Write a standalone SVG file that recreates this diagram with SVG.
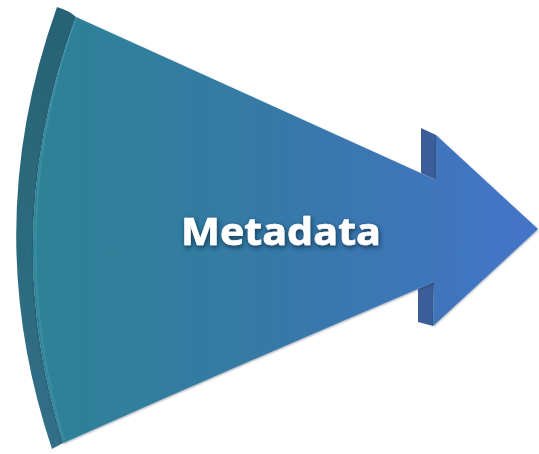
<svg xmlns="http://www.w3.org/2000/svg" width="539" height="454" viewBox="0 0 539 454">
  <defs>
    <linearGradient id="faceGrad" x1="30" y1="0" x2="538" y2="0" gradientUnits="userSpaceOnUse">
      <stop offset="0" stop-color="#2D8296"/>
      <stop offset="0.5" stop-color="#3679A8"/>
      <stop offset="1" stop-color="#4573C9"/>
    </linearGradient>
    <linearGradient id="sideGrad" x1="0" y1="7" x2="0" y2="449" gradientUnits="userSpaceOnUse">
      <stop offset="0" stop-color="#276274"/>
      <stop offset="0.5" stop-color="#2B6A7C"/>
      <stop offset="1" stop-color="#336F88"/>
    </linearGradient>
    <filter id="textGlow" x="-10%" y="-40%" width="120%" height="180%">
      <feGaussianBlur in="SourceAlpha" stdDeviation="2.4" result="b"/>
      <feOffset in="b" dx="0.5" dy="1.5" result="o"/>
      <feFlood flood-color="#0E2A40" flood-opacity="0.85"/>
      <feComposite in2="o" operator="in" result="s"/>
      <feMerge>
        <feMergeNode in="s"/>
        <feMergeNode in="SourceGraphic"/>
      </feMerge>
    </filter>
    <filter id="edgeShadow" x="-5%" y="-5%" width="110%" height="110%">
      <feGaussianBlur in="SourceAlpha" stdDeviation="1.2" result="b"/>
      <feOffset in="b" dx="0" dy="1" result="o"/>
      <feFlood flood-color="#1A2E48" flood-opacity="0.5"/>
      <feComposite in2="o" operator="in" result="s"/>
      <feMerge>
        <feMergeNode in="s"/>
        <feMergeNode in="SourceGraphic"/>
      </feMerge>
    </filter>
    <style>
      .side { fill: url(#sideGrad); }
      .notch { fill: #3C5E98; }
      .face { fill: url(#faceGrad); }
      .label { font-family: "Open Sans", "Liberation Sans", sans-serif; font-weight: bold; font-size: 38px; fill: #FFFFFF; stroke: #FFFFFF; stroke-width: 0.6px; }
    </style>
  </defs>

  <g id="metadata-arrow">
    <!-- left side face (3D thickness) -->
    <path class="side" d="M57,7 Q-22,228 52,449 L63,443 Q-3,230 76,17 Q70,11 57,7 Z"/>
    <!-- notch side faces -->
    <path class="notch" d="M421,128 L436,135 L436,180 L421,173 Z"/>
    <path class="notch" d="M418,289 L434,282 L433,326 L418,322 Z"/>
    <!-- front face -->
    <path class="face" filter="url(#edgeShadow)" d="M76,17 L436,180 L436,135 L538,229 L433,326 L434,282 Q250,360 63,443 Q-3,230 76,17 Z"/>
    <!-- bevel highlight along the curved left edge -->
    <path d="M75,20 Q2,230 64,440" fill="none" stroke="#4FA3B8" stroke-opacity="0.35" stroke-width="2"/>
    <text class="label" x="181" y="245" textLength="200" lengthAdjust="spacingAndGlyphs" filter="url(#textGlow)">Metadata</text>
  </g>
</svg>
